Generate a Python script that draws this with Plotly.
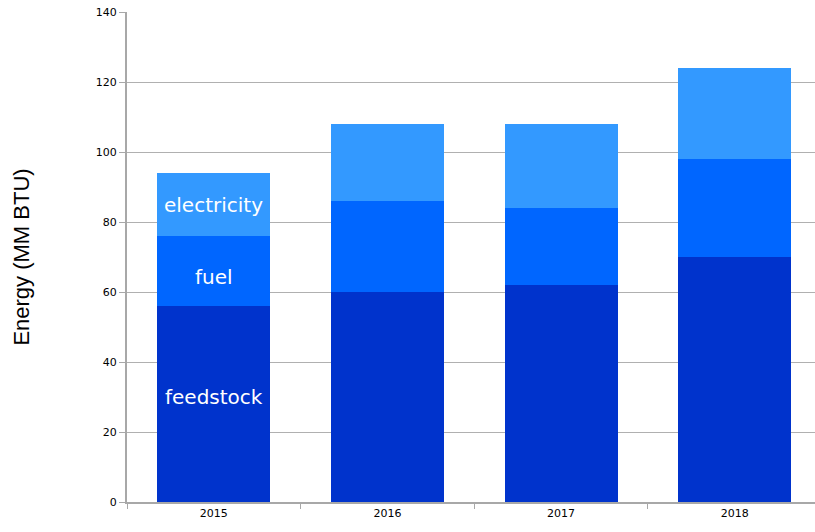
import plotly.graph_objects as go

years = ["2015", "2016", "2017", "2018"]
feedstock = [56, 60, 62, 70]
fuel = [20, 26, 22, 28]
electricity = [18, 22, 24, 26]
series_names = ["feedstock", "fuel", "electricity"]
colors = ["#0033CC", "#0066FF", "#3399FF"]
label_shift = {"feedstock": 7, "fuel": -6, "electricity": 0}

fig = go.Figure()
for name, vals, col in zip(series_names, [feedstock, fuel, electricity], colors):
    fig.add_trace(go.Bar(x=years, y=vals, name=name, marker=dict(color=col, line=dict(width=0)),
                         width=0.65, hoverinfo="x+y+name"))

# in-bar labels on the first column
base = 0
label_idx = years.index("2015")
for name, vals in zip(series_names, [feedstock, fuel, electricity]):
    fig.add_annotation(x=label_idx, y=base + vals[label_idx] / 2, xref="x", yref="y",
                       text=name, showarrow=False,
                       font=dict(family="DejaVu Sans", size=20, color="white"),
                       yshift=label_shift[name])
    base += vals[label_idx]

fig.update_layout(
    barmode="stack",
    width=815, height=532,
    margin=dict(l=127, r=0, t=12, b=30),
    paper_bgcolor="white", plot_bgcolor="white",
    showlegend=False,
    font=dict(family="DejaVu Sans", size=11, color="black"),
    xaxis=dict(type="category", range=[-0.5, 3.462], showline=True, linecolor="#a8a8a8", linewidth=2,
               ticks="outside", tickson="boundaries", ticklen=5, tickcolor="#a8a8a8",
               tickfont=dict(size=11), showgrid=False, automargin=False),
    yaxis=dict(range=[0, 140], dtick=20, showline=True, linecolor="#a8a8a8", linewidth=2,
               ticks="outside", ticklen=6, tickcolor="#a8a8a8", gridcolor="#b0b0b0", gridwidth=1,
               tickfont=dict(size=11), automargin=False,
               title=dict(text="Energy (MM BTU)", font=dict(family="Liberation Sans", size=22),
                          standoff=60)),
)

fig.write_html("out.html", config={"displayModeBar": False},
               post_script="document.body.style.margin='0';")
